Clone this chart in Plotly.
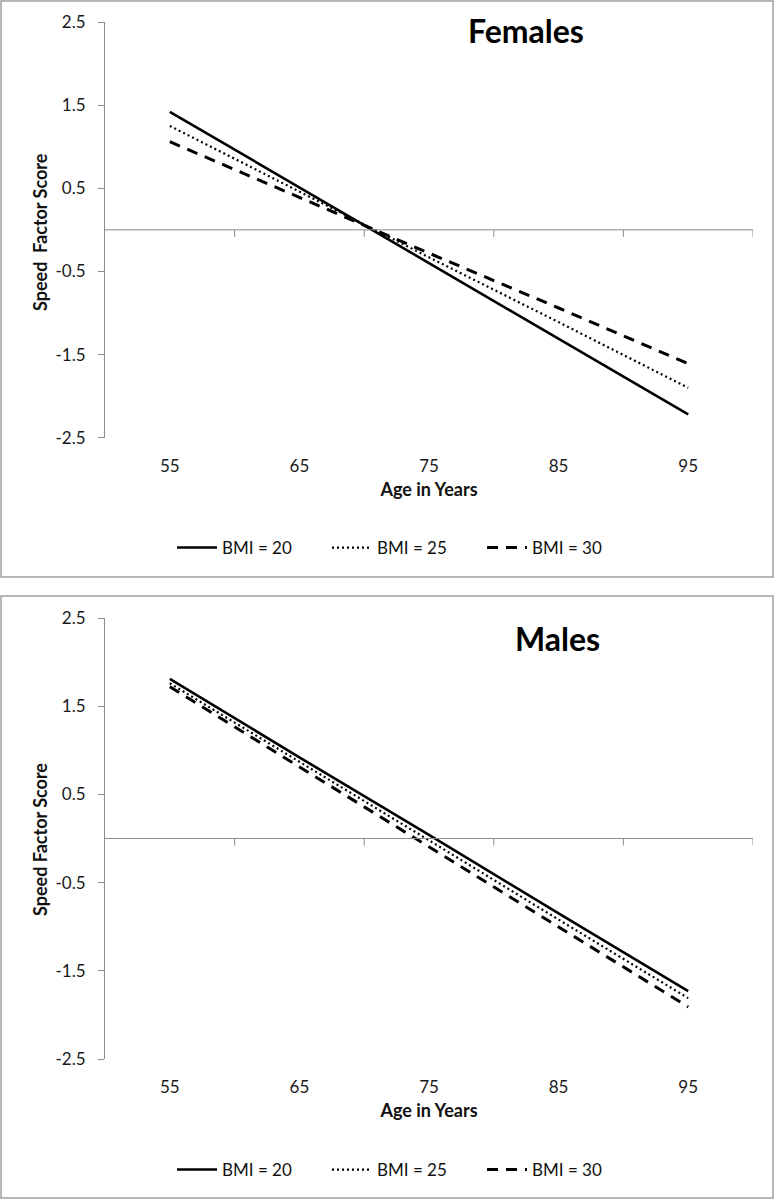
import plotly.graph_objects as go

ages = ["55", "65", "75", "85", "95"]
bmi_labels = ["BMI = 20", "BMI = 25", "BMI = 30"]

# Females: Speed factor score by age for each BMI level
fem_bmi20 = [1.42, 0.51, -0.40, -1.31, -2.22]
fem_bmi25 = [1.25, 0.46, -0.33, -1.11, -1.90]
fem_bmi30 = [1.06, 0.39, -0.28, -0.94, -1.61]

# Males
male_bmi20 = [1.81, 0.92, 0.04, -0.85, -1.73]
male_bmi25 = [1.76, 0.87, -0.02, -0.92, -1.81]
male_bmi30 = [1.72, 0.81, -0.09, -1.00, -1.91]

y_ticks = [2.5, 1.5, 0.5, -0.5, -1.5, -2.5]

FONT = "Lato"
W, H = 775, 1200
styles = [
    dict(color="black", width=2.6, dash="solid"),
    dict(color="black", width=2.2, dash="2px,3px"),
    dict(color="black", width=3, dash="11px,8px"),
]

fig = go.Figure()
panels = [
    ("x", "y", "legend", [fem_bmi20, fem_bmi25, fem_bmi30]),
    ("x2", "y2", "legend2", [male_bmi20, male_bmi25, male_bmi30]),
]
for xa, ya, lg, series in panels:
    for name, vals, st in zip(bmi_labels, series, styles):
        fig.add_trace(go.Scatter(x=ages, y=vals, mode="lines", name=name,
                                 line=st, xaxis=xa, yaxis=ya, legend=lg,
                                 hoverinfo="skip"))

def py(p):
    return 1 - p / H

xdom = [105 / W, 753 / W]
axis_common_x = dict(type="category", range=[-0.5, 4.5], showline=False, ticks="",
                     showgrid=False, zeroline=False, automargin=False,
                     tickfont=dict(family=FONT, size=17, color="#1a1a1a"),
                     ticklabelstandoff=16,
                     title=dict(font=dict(family=FONT, size=18, color="#111"), standoff=8))
axis_common_y = dict(range=[-2.5, 2.5], tickvals=y_ticks, ticktext=[str(v) for v in y_ticks],
                     showline=True, linecolor="#8c8c8c", linewidth=1, ticks="outside",
                     ticklen=6, tickcolor="#8c8c8c", showgrid=False, zeroline=False,
                     automargin=False,
                     tickfont=dict(family=FONT, size=17, color="#1a1a1a"), ticklabelstandoff=9)

leg_common = dict(orientation="h", x=172 / W, xanchor="left", yanchor="middle",
                  font=dict(family=FONT, size=17, color="#111"), entrywidth=100,
                  itemwidth=40, entrywidthmode="pixels", bgcolor="rgba(0,0,0,0)")

fig.update_layout(
    template="none",
    width=W, height=H, margin=dict(l=0, r=0, t=0, b=0, pad=0, autoexpand=False),
    paper_bgcolor="white", plot_bgcolor="white",
    font=dict(family=FONT, color="#111"),
    xaxis=dict(domain=xdom, anchor="y", **axis_common_x),
    yaxis=dict(domain=[py(437.7), py(22)], anchor="x", **axis_common_y),
    xaxis2=dict(domain=xdom, anchor="y2", **axis_common_x),
    yaxis2=dict(domain=[py(1059), py(618)], anchor="x2", **axis_common_y),
    legend=dict(y=py(548), **leg_common),
    legend2=dict(y=py(1170), **leg_common),
)
fig.update_xaxes(title_text="<b>Age in Years</b>")

shapes = []
# Panel borders
for y0, y1 in [(1, 577), (596, 1198)]:
    shapes.append(dict(type="rect", xref="paper", yref="paper", x0=1 / W, x1=773 / W,
                       y0=py(y1), y1=py(y0), line=dict(color="#a0a0a0", width=1.5)))
# Horizontal axis line at zero with tick marks between categories
for xr, yr in [("x", "y"), ("x2", "y2")]:
    shapes.append(dict(type="line", xref=xr + " domain", yref=yr, x0=0, x1=1, y0=0, y1=0,
                       line=dict(color="#8c8c8c", width=1)))
    for i in range(5):
        shapes.append(dict(type="line", xref=xr, yref=yr, ysizemode="pixel", yanchor=0,
                           x0=i + 0.5, x1=i + 0.5, y0=0, y1=-7,
                           line=dict(color="#8c8c8c", width=1)))
fig.update_layout(shapes=shapes)

annotations = [
    dict(text="<b>Females</b>", x=526 / W, y=py(30), xref="paper", yref="paper",
         xanchor="center", yanchor="middle",
         showarrow=False, font=dict(family=FONT, size=32, color="black")),
    dict(text="<b>Males</b>", x=557 / W, y=py(638), xref="paper", yref="paper",
         xanchor="center", yanchor="middle",
         showarrow=False, font=dict(family=FONT, size=32, color="black")),
    dict(text="<b>Speed  Factor Score</b>", x=40 / W, y=py(232), xref="paper", yref="paper",
         xanchor="center", yanchor="middle",
         textangle=-90, showarrow=False, font=dict(family=FONT, size=18, color="#111")),
    dict(text="<b>Speed Factor Score</b>", x=40 / W, y=py(840), xref="paper", yref="paper",
         xanchor="center", yanchor="middle",
         textangle=-90, showarrow=False, font=dict(family=FONT, size=18, color="#111")),
]
fig.update_layout(annotations=annotations)

fig.write_html("out.html", config={"displayModeBar": False},
               post_script="document.body.style.margin='0';document.body.style.overflow='hidden';")
